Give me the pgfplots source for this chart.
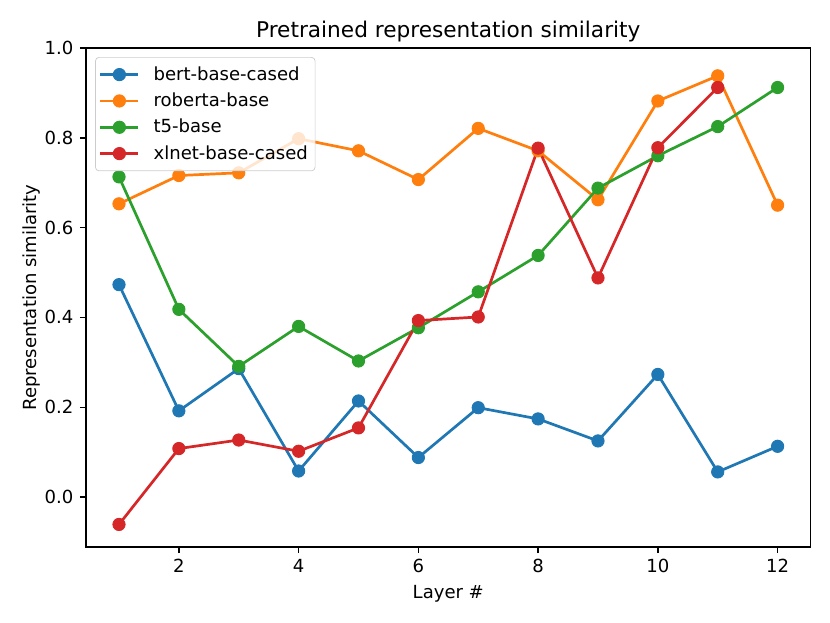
\documentclass[border=0pt]{standalone}
\usepackage{fontspec}
\setmainfont{DejaVu Sans}
\usepackage{pgfplots}
\pgfplotsset{compat=1.18}
\definecolor{c0}{HTML}{1F77B4}
\definecolor{c1}{HTML}{FF7F0E}
\definecolor{c2}{HTML}{2CA02C}
\definecolor{c3}{HTML}{D62728}
\begin{document}
\begin{tikzpicture}
\path[use as bounding box] (-47.7pt,-42.1pt) rectangle (412.3pt,303.1pt);
\begin{axis}[
  at={(0,0)}, anchor=south west,
  scale only axis, width=401.5pt, height=276.5pt,
  xmin=0.45, xmax=12.55, ymin=-0.111, ymax=1.0,
  xtick={2,4,6,8,10,12},
  ytick={0,0.2,0.4,0.6,0.8,1.0},
  yticklabel style={/pgf/number format/.cd, fixed, fixed zerofill, precision=1},
  /pgf/number format/assume math mode=true,
  tick pos=left, tick align=outside,
  major tick length=3.5pt,
  every tick/.style={black, line width=0.8pt},
  axis line style={line width=0.8pt},
  tick label style={font=\fontsize{10}{12}\selectfont},
  label style={font=\fontsize{10}{12}\selectfont},
  title={Pretrained representation similarity},
  title style={font=\fontsize{12}{14}\selectfont, yshift=-6pt},
  xlabel={Layer \#},
  ylabel={Representation similarity},
  ylabel style={yshift=-4.5pt},
  legend style={at={(0,1)}, anchor=north west, xshift=5pt, yshift=-5pt,
    draw=black!20, rounded corners=2pt, fill=white, fill opacity=0.8, text opacity=1,
    font=\fontsize{10}{12}\selectfont, row sep=1.5pt, inner xsep=2pt, inner ysep=3pt},
  legend cell align=left,
  legend image code/.code={\draw[mark repeat=2,mark phase=2,#1,line width=1.5pt,fill opacity=1,draw opacity=1] plot coordinates {(0cm,0cm)(0.37cm,0cm)(0.74cm,0cm)}; \path (0.94cm,0cm);},
  every axis plot/.append style={line width=1.5pt, mark=*, mark size=3.4pt, mark options={solid, line width=0.5pt}},
]
\addplot[color=c0] coordinates {
(1,0.473)(2,0.192)(3,0.286)(4,0.058)(5,0.214)(6,0.088)(7,0.199)(8,0.174)(9,0.125)(10,0.273)(11,0.056)(12,0.113)};
\addlegendentry{bert-base-cased}
\addplot[color=c1] coordinates {
(1,0.653)(2,0.716)(3,0.722)(4,0.798)(5,0.771)(6,0.707)(7,0.821)(8,0.771)(9,0.662)(10,0.882)(11,0.938)(12,0.650)};
\addlegendentry{roberta-base}
\addplot[color=c2] coordinates {
(1,0.713)(2,0.418)(3,0.291)(4,0.380)(5,0.303)(6,0.377)(7,0.457)(8,0.538)(9,0.688)(10,0.760)(11,0.825)(12,0.912)};
\addlegendentry{t5-base}
\addplot[color=c3] coordinates {
(1,-0.061)(2,0.108)(3,0.127)(4,0.102)(5,0.154)(6,0.393)(7,0.401)(8,0.777)(9,0.488)(10,0.778)(11,0.912)};
\addlegendentry{xlnet-base-cased}
\end{axis}
\end{tikzpicture}
\end{document}
